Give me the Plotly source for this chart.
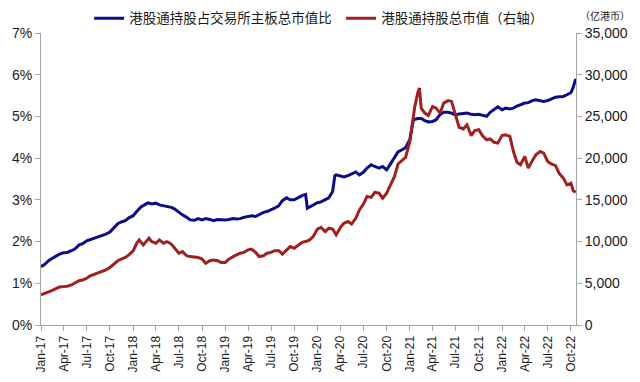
import plotly.graph_objects as go

blue_name = "港股通持股占交易所主板总市值比"
red_name = "港股通持股总市值（右轴）"

blue_dates = [
    "2017-01-01","2017-01-15","2017-02-01","2017-02-15","2017-03-01","2017-03-15","2017-04-01","2017-04-15",
    "2017-05-01","2017-05-15","2017-06-01","2017-06-15","2017-07-01","2017-07-15","2017-08-01","2017-08-15",
    "2017-09-01","2017-09-15","2017-10-01","2017-10-15","2017-11-01","2017-11-15","2017-12-01","2017-12-15",
    "2018-01-01","2018-01-15","2018-02-01","2018-02-15","2018-03-01","2018-03-15","2018-04-01","2018-04-15",
    "2018-05-01","2018-05-15","2018-06-01","2018-06-15","2018-07-01","2018-07-15","2018-08-01","2018-08-15",
    "2018-09-01","2018-09-15","2018-10-01","2018-10-15","2018-11-01","2018-11-15","2018-12-01","2018-12-15",
    "2019-01-01","2019-01-15","2019-02-01","2019-02-15","2019-03-01","2019-03-15","2019-04-01","2019-04-15",
    "2019-05-01","2019-05-15","2019-06-01","2019-06-15","2019-07-01","2019-07-15","2019-08-01","2019-08-15",
    "2019-09-01","2019-09-15","2019-10-01","2019-10-15","2019-11-01","2019-11-15","2019-11-22","2019-12-01",
    "2019-12-15","2020-01-01","2020-01-15","2020-02-01","2020-02-15","2020-03-01","2020-03-10","2020-03-15",
    "2020-04-01","2020-04-15","2020-05-01","2020-05-15","2020-06-01","2020-06-15","2020-07-01","2020-07-15",
    "2020-08-01","2020-08-15","2020-09-01","2020-09-15","2020-10-01","2020-10-15","2020-11-01","2020-11-15",
    "2020-12-01","2020-12-15","2021-01-01","2021-01-10","2021-01-15","2021-02-01","2021-02-15","2021-03-01",
    "2021-03-15","2021-04-01","2021-04-15","2021-05-01","2021-05-15","2021-06-01","2021-06-15","2021-07-01",
    "2021-07-15","2021-08-01","2021-08-15","2021-09-01","2021-09-15","2021-10-01","2021-10-15","2021-11-01",
    "2021-11-15","2021-12-01","2021-12-15","2022-01-01","2022-01-15","2022-02-01","2022-02-15","2022-03-01",
    "2022-03-15","2022-04-01","2022-04-15","2022-05-01","2022-05-15","2022-06-01","2022-06-15","2022-07-01",
    "2022-07-15","2022-08-01","2022-08-15","2022-09-01","2022-09-15","2022-10-01","2022-10-10","2022-10-20",
]
blue_vals = [
    1.40,1.45,1.55,1.60,1.63,1.70,1.73,1.74,
    1.78,1.82,1.92,1.95,2.02,2.05,2.08,2.11,
    2.14,2.18,2.23,2.32,2.43,2.47,2.50,2.57,
    2.62,2.72,2.83,2.88,2.93,2.90,2.92,2.88,
    2.86,2.84,2.82,2.78,2.70,2.64,2.58,2.52,
    2.51,2.55,2.52,2.55,2.53,2.50,2.53,2.52,
    2.52,2.53,2.55,2.54,2.55,2.58,2.60,2.62,
    2.60,2.64,2.70,2.72,2.76,2.80,2.86,2.98,
    3.05,3.00,3.00,3.05,3.10,3.13,2.80,2.83,
    2.88,2.93,2.95,3.00,3.05,3.20,3.58,3.60,
    3.57,3.55,3.58,3.62,3.67,3.60,3.66,3.76,
    3.84,3.80,3.76,3.80,3.72,3.85,4.03,4.15,
    4.20,4.25,4.45,4.75,4.92,4.95,4.95,4.90,
    4.87,4.88,4.92,5.05,5.10,5.10,5.08,5.03,
    5.06,5.07,5.08,5.05,5.04,5.05,5.02,5.00,
    5.10,5.18,5.23,5.16,5.20,5.18,5.20,5.25,
    5.28,5.32,5.33,5.38,5.40,5.38,5.36,5.38,
    5.42,5.46,5.47,5.48,5.52,5.57,5.70,5.90,
]

red_dates = [
    "2017-01-01","2017-01-15","2017-02-01","2017-02-15","2017-03-01","2017-03-15","2017-04-01","2017-04-15",
    "2017-05-01","2017-05-15","2017-06-01","2017-06-15","2017-07-01","2017-07-15","2017-08-01","2017-08-15",
    "2017-09-01","2017-09-15","2017-10-01","2017-10-15","2017-11-01","2017-11-15","2017-12-01","2017-12-15",
    "2018-01-01","2018-01-15","2018-01-25","2018-02-10","2018-02-20","2018-03-05","2018-03-15","2018-04-01",
    "2018-04-15","2018-05-01","2018-05-15","2018-06-01","2018-06-15","2018-07-01","2018-07-15","2018-08-01",
    "2018-08-15","2018-09-01","2018-09-15","2018-10-01","2018-10-15","2018-11-01","2018-11-15","2018-12-01",
    "2018-12-15","2019-01-01","2019-01-15","2019-02-01","2019-02-15","2019-03-01","2019-03-15","2019-04-01",
    "2019-04-15","2019-05-01","2019-05-15","2019-06-01","2019-06-15","2019-07-01","2019-07-15","2019-08-01",
    "2019-08-15","2019-09-01","2019-09-15","2019-10-01","2019-10-15","2019-11-01","2019-11-15","2019-12-01",
    "2019-12-15","2020-01-01","2020-01-15","2020-02-01","2020-02-15","2020-03-01","2020-03-15","2020-04-01",
    "2020-04-15","2020-05-01","2020-05-15","2020-06-01","2020-06-15","2020-07-01","2020-07-15","2020-08-01",
    "2020-08-15","2020-09-01","2020-09-15","2020-10-01","2020-10-15","2020-11-01","2020-11-15","2020-12-01",
    "2020-12-15","2021-01-01","2021-01-10","2021-01-20","2021-02-01","2021-02-08","2021-02-15","2021-03-01",
    "2021-03-15","2021-04-01","2021-04-15","2021-05-01","2021-05-15","2021-06-01","2021-06-15","2021-06-25",
    "2021-07-15","2021-08-01","2021-08-15","2021-09-01","2021-09-15","2021-10-01","2021-10-15","2021-11-01",
    "2021-11-15","2021-12-01","2021-12-15","2022-01-01","2022-01-15","2022-02-01","2022-02-15","2022-03-01",
    "2022-03-15","2022-04-01","2022-04-15","2022-05-01","2022-05-15","2022-06-01","2022-06-15","2022-07-01",
    "2022-07-15","2022-08-01","2022-08-15","2022-09-01","2022-09-15","2022-10-01","2022-10-10","2022-10-20",
]
red_vals = [
    3600,3750,3950,4150,4350,4550,4600,4650,
    4800,5000,5300,5400,5600,5900,6100,6300,
    6450,6600,6900,7300,7700,7900,8100,8400,
    8900,9800,10200,9600,10000,10400,10000,9800,
    10200,9800,10000,9700,9200,8600,8800,8300,
    8200,8100,8100,7900,7400,7700,7800,7700,
    7500,7500,7900,8200,8400,8600,8700,9000,
    9100,8700,8200,8300,8600,8700,8900,8900,
    8500,9000,9400,9200,9500,9900,10000,10200,
    10600,11500,11700,11200,11600,11500,10800,11700,
    12200,12400,12100,12800,13800,14500,15400,15300,
    15900,15800,15200,15800,16700,17800,19300,19700,
    20100,22000,23700,26100,27800,28400,26000,25400,
    25100,26200,26000,25400,26600,26900,26800,25800,
    23700,23500,24000,22700,23300,23400,22700,22200,
    22300,21900,21800,22700,22800,22600,20800,19500,
    19200,20200,18800,19700,20400,20800,20600,19600,
    19300,19100,18200,17600,16800,17000,16100,15900,
]

left_range = [0, 7]
right_range = [0, 35000]
x_range = ["2017-01-01", "2022-10-21"]
unit_label = "（亿港币）"

FONT = "Liberation Sans, Arial, Noto Sans CJK SC, sans-serif"
CJK = "Noto Sans CJK SC, sans-serif"
AX = "#a6a6a6"

fig = go.Figure()
fig.add_trace(go.Scatter(x=blue_dates, y=blue_vals, name=blue_name, mode="lines",
                         line=dict(color="#0c0c88", width=3), yaxis="y", legend="legend"))
fig.add_trace(go.Scatter(x=red_dates, y=red_vals, name=red_name, mode="lines",
                         line=dict(color="#a02020", width=3), yaxis="y2", legend="legend2"))

leg_common = dict(orientation="h", yanchor="middle", xanchor="left", y=1.05,
                  font=dict(family=CJK, size=13.5, color="#1a1a1a"),
                  itemwidth=30, bgcolor="rgba(0,0,0,0)")

fig.update_layout(
    width=632, height=374,
    margin=dict(l=33, r=64, t=25, b=57, autoexpand=False),
    paper_bgcolor="white", plot_bgcolor="white",
    font=dict(family=FONT, size=13, color="#1a1a1a"),
    showlegend=True,
    legend=dict(x=0.09, **leg_common),
    legend2=dict(x=0.561, **leg_common),
    xaxis=dict(type="date", range=x_range, dtick="M3", tick0="2017-01-01", tickformat="%b-%y",
               tickangle=-90, showgrid=False, showline=True, linecolor=AX, linewidth=1,
               ticks="outside", ticklen=5, tickcolor=AX, tickfont=dict(size=12, color="#1a1a1a"),
               zeroline=False),
    yaxis=dict(range=left_range, dtick=1, ticksuffix="%", showgrid=False, showline=True,
               linecolor=AX, linewidth=1, ticks="outside", ticklen=5, tickcolor=AX,
               zeroline=False, tickfont=dict(size=14)),
    yaxis2=dict(range=right_range, dtick=5000, tickformat=",d", overlaying="y", side="right",
                showgrid=False, showline=True, linecolor=AX, linewidth=1, ticks="outside",
                ticklen=5, tickcolor=AX, zeroline=False, tickfont=dict(size=14)),
    annotations=[dict(text=unit_label, xref="paper", yref="paper", x=1.055, y=1.0,
                      yshift=8, xanchor="center", yanchor="bottom", showarrow=False,
                      font=dict(family=CJK, size=10, color="#1a1a1a"))],
)

fig.write_html("out.html")
